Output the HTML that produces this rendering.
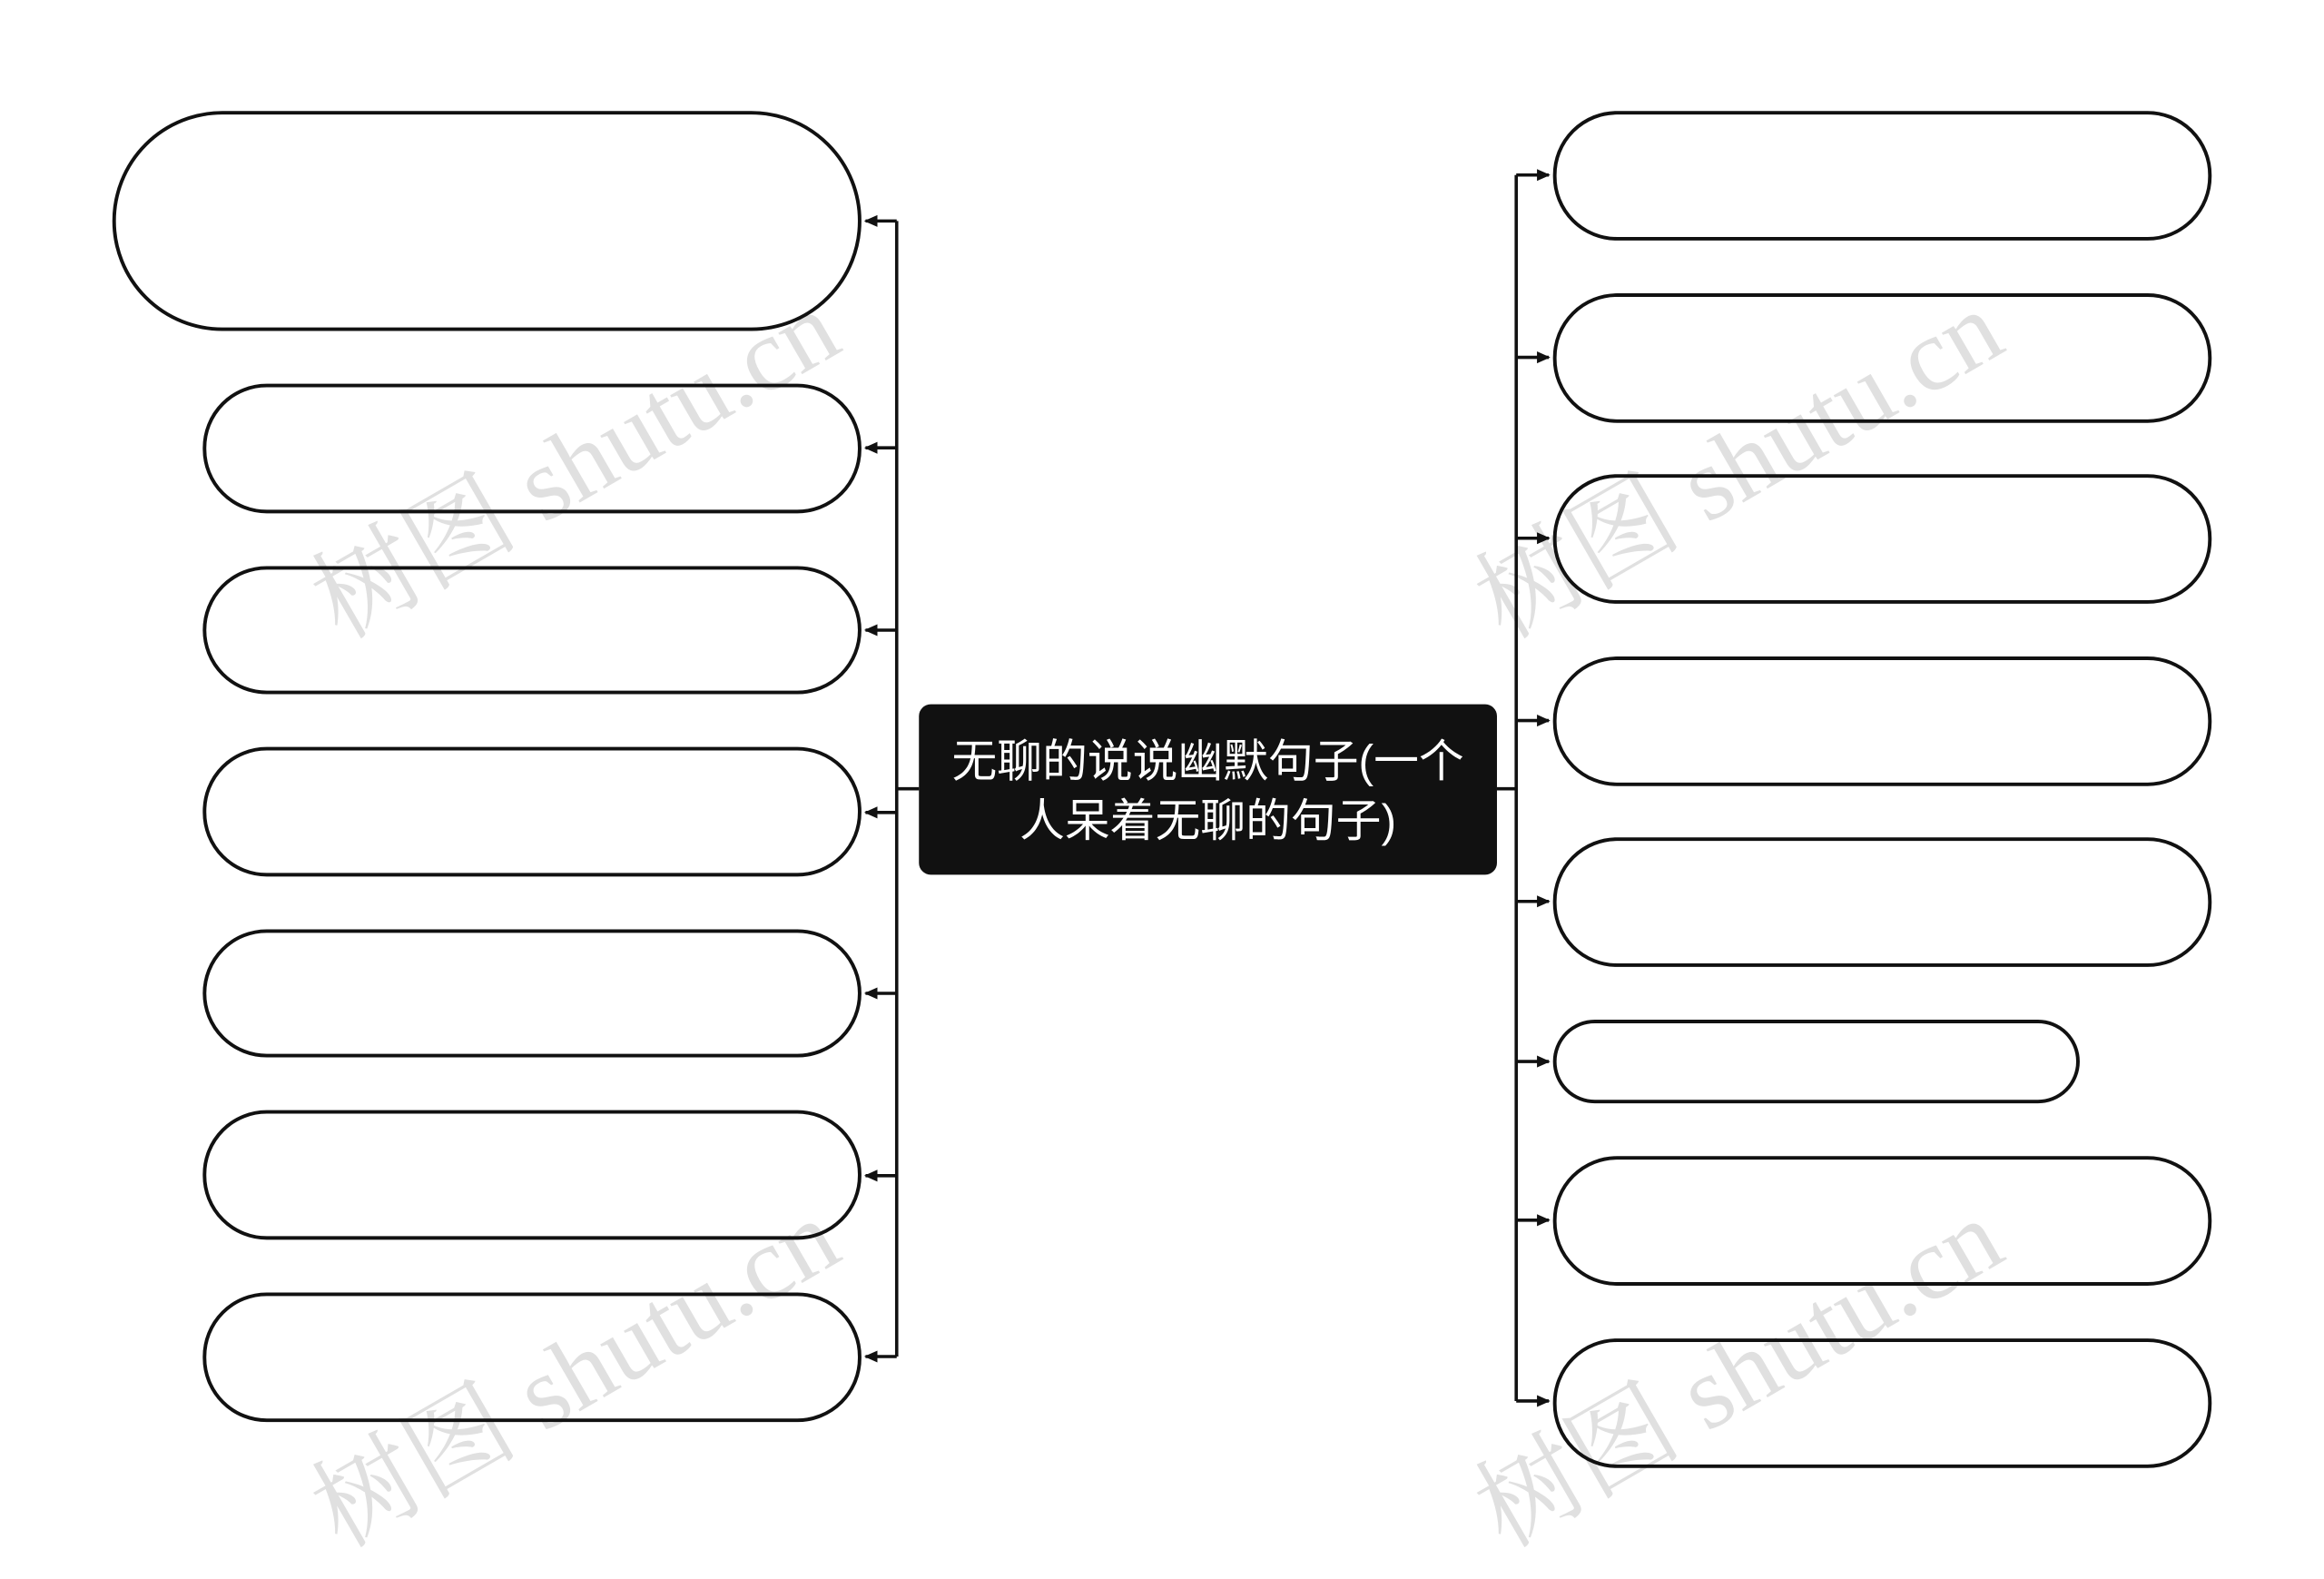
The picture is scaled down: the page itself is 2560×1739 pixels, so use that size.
<!DOCTYPE html>
<html><head><meta charset="utf-8"><style>
html,body{margin:0;padding:0;background:#fff;width:2560px;height:1739px;overflow:hidden}
svg{display:block}
</style></head><body>
<svg width="2560" height="1739" viewBox="0 0 1568 1065" xmlns="http://www.w3.org/2000/svg">
<defs>
<marker id="a" markerWidth="9" markerHeight="9" refX="8" refY="4.5" orient="auto" markerUnits="userSpaceOnUse">
<path d="M0,0.5 L9,4.5 L0,8.5 Z" fill="#111"/>
</marker>
</defs>
<g fill="#ccc" fill-opacity="0.6" font-family="Liberation Serif, Noto Serif CJK SC, serif" font-size="70">
<text transform="translate(230,432) rotate(-30)">树图 shutu.cn</text>
<text transform="translate(1015,432) rotate(-30)">树图 shutu.cn</text>
<text transform="translate(230,1045) rotate(-30)">树图 shutu.cn</text>
<text transform="translate(1015,1045) rotate(-30)">树图 shutu.cn</text>
</g>
<g fill="none" stroke="#111" stroke-width="2.4">
<rect x="77" y="76" width="503" height="146" rx="73"/>
<rect x="138" y="260" width="442" height="85" rx="42"/>
<rect x="138" y="383" width="442" height="84" rx="42"/>
<rect x="138" y="505" width="442" height="85" rx="42"/>
<rect x="138" y="628" width="442" height="84" rx="42"/>
<rect x="138" y="750" width="442" height="85" rx="42"/>
<rect x="138" y="873" width="442" height="85" rx="42"/>
<rect x="1049" y="76" width="442" height="85" rx="42"/>
<rect x="1049" y="199" width="442" height="85" rx="42"/>
<rect x="1049" y="321" width="442" height="85" rx="42"/>
<rect x="1049" y="444" width="442" height="85" rx="42"/>
<rect x="1049" y="566" width="442" height="85" rx="42"/>
<rect x="1049" y="689" width="353" height="54" rx="27"/>
<rect x="1049" y="781" width="442" height="85" rx="42"/>
<rect x="1049" y="904" width="442" height="85" rx="42"/>
</g>
<g stroke="#111" stroke-width="2.2" fill="none">
<path d="M620 532 H605 M605 149 V915 M1010 532 H1023 M1023 118 V945"/>
<g marker-end="url(#a)">
<path d="M605 149 H584"/><path d="M605 302 H584"/><path d="M605 425 H584"/><path d="M605 548 H584"/>
<path d="M605 670 H584"/><path d="M605 793 H584"/><path d="M605 915 H584"/>
<path d="M1023 118 H1045"/><path d="M1023 241 H1045"/><path d="M1023 363 H1045"/><path d="M1023 486 H1045"/>
<path d="M1023 608 H1045"/><path d="M1023 716 H1045"/><path d="M1023 823 H1045"/><path d="M1023 945 H1045"/>
</g>
</g>
<rect x="620" y="475" width="390" height="115" rx="8" fill="#111"/>
<g fill="#fff" font-family="Liberation Sans, Noto Sans CJK SC, sans-serif" font-size="30.5" text-anchor="middle">
<text x="815" y="524">无聊的说说幽默句子(一个</text>
<text x="815" y="564">人呆着无聊的句子)</text>
</g>
</svg>
</body></html>
